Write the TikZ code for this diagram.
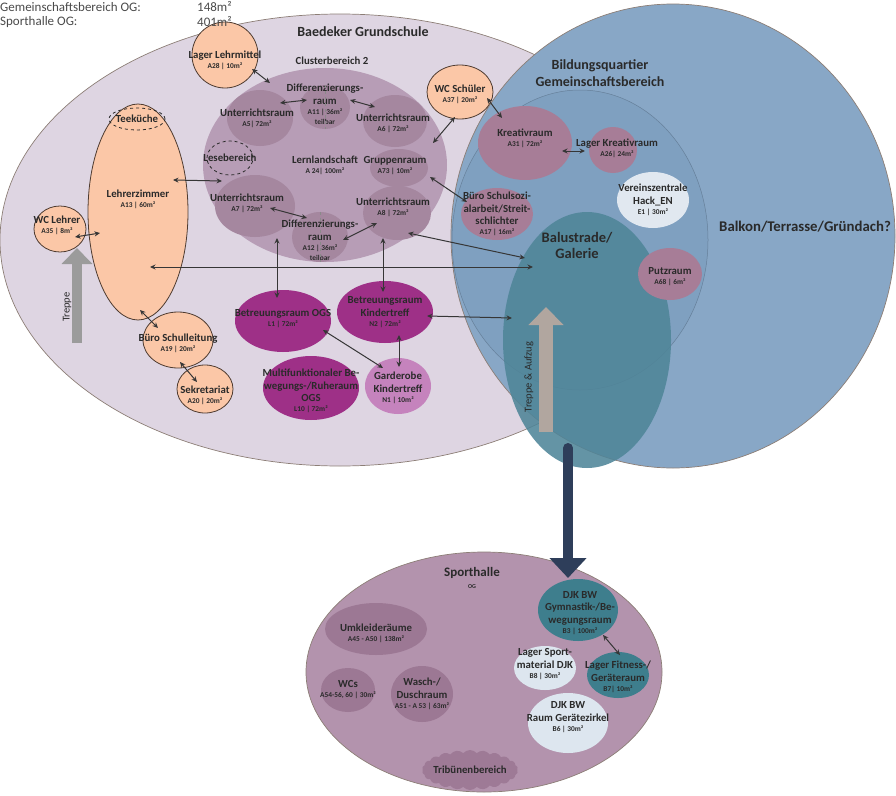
\documentclass[tikz,border=0pt]{standalone}
\usepackage{fontspec}
\setmainfont{Carlito}
\usepackage{tikz}
\usetikzlibrary{positioning,shapes.geometric,shapes.symbols,arrows.meta}

\definecolor{lila}{HTML}{DED5E2}
\definecolor{lilaline}{HTML}{8C7E76}
\definecolor{clusterc}{HTML}{B79DB6}
\definecolor{unterc}{HTML}{A5879F}
\definecolor{peachc}{HTML}{FBC7A7}
\definecolor{peachline}{HTML}{4E3B30}
\definecolor{ogsc}{HTML}{9E3087}
\definecolor{gardc}{HTML}{C583BD}
\definecolor{blauc}{HTML}{88A7C6}
\definecolor{bqc}{HTML}{7FA0C0}
\definecolor{galc}{HTML}{4F8598}
\definecolor{mauvec}{HTML}{A77D97}
\definecolor{vereinc}{HTML}{E1E8F0}
\definecolor{sportc}{HTML}{B393AD}
\definecolor{sportin}{HTML}{9C7894}
\definecolor{djkc}{HTML}{3E7E8D}
\definecolor{hellc}{HTML}{DDE6EF}
\definecolor{navyc}{HTML}{2E3E5A}
\definecolor{treppec}{HTML}{9B9B9B}
\definecolor{aufzugc}{HTML}{B1A69F}
\definecolor{linkc}{HTML}{363636}
\definecolor{ink}{HTML}{2A2A2A}

\newcommand{\rmfont}{\bfseries\fontsize{10.8}{12.5}\selectfont}
\newcommand{\smfont}{\fontsize{7.4}{9}\selectfont}
\newcommand{\titlefont}{\bfseries\fontsize{14}{17}\selectfont}
\newcommand{\area}[1]{\\[-2.5pt]{\smfont #1}}

\begin{document}
\begin{tikzpicture}[
x=1pt, y=-1pt,
every node/.style={font=\rmfont, text=ink},
every label/.style={align=center, inner sep=0pt},
zone/.style={ellipse, inner sep=0pt, draw=lilaline, line width=0.7pt},
room/.style={ellipse, inner sep=0pt},
peach/.style={room, fill=peachc, draw=peachline, line width=0.8pt},
unter/.style={room, fill=unterc},
mauve/.style={room, fill=mauvec},
ogsroom/.style={room, fill=ogsc},
djk/.style={room, fill=djkc},
hell/.style={room, fill=hellc},
sport/.style={room, fill=sportin},
dashedroom/.style={room, draw=ink, dashed, line width=0.8pt},
pfeil/.style={{Stealth[length=5.5pt,width=5pt]}-{Stealth[length=5.5pt,width=5pt]}, draw=linkc, line width=1pt},
teil/.style={draw=ink!55, dashed, line width=0.4pt},
titel/.style={font=\titlefont, align=center, inner sep=0pt}
]
\useasboundingbox (0,0) rectangle (896,795);

% Flaechen
\node[zone, fill=lila, minimum width=680pt, minimum height=452pt] (gs) at (340,240) {};
\node[zone, fill=blauc, minimum width=444pt, minimum height=464pt] (balkon) at (673,236) {};
\node[zone, fill=bqc, draw=bqc!80!black, line width=0.5pt, minimum width=256pt, minimum height=300pt] (bq) at (580,240) {};
\node[zone, fill=galc, fill opacity=0.88, draw=none, minimum width=168pt, minimum height=256pt] (gal) at (587,340) {};
\node[zone, fill=sportc, minimum width=356pt, minimum height=240pt] (sh) at (484,672) {};

% Clusterbereich 2
\node[room, fill=clusterc, minimum width=244pt, minimum height=194pt, label={center:Lernlandschaft\area{A 24| 100m²}}] (cluster) at (325,165) {};
\node[unter, minimum width=50pt, minimum height=44pt, label={[yshift=3pt]center:Differenzierungs-\\raum\area{A11 | 36m²}\area{teilbar}}] (a11) at (325,107) {};
\node[unter, minimum width=66pt, minimum height=56pt, label={[xshift=-3pt]center:Unterrichtsraum\area{A5| 72m²}}] (a5) at (260,118) {};
\node[unter, minimum width=64pt, minimum height=52pt, label={[xshift=-2pt,yshift=-2pt]center:Unterrichtsraum\area{A6 | 72m²}}] (a6) at (395,121) {};
\node[dashedroom, minimum width=46pt, minimum height=34pt, label={center:Lesebereich}] (lese) at (230,158) {};
\node[unter, minimum width=58pt, minimum height=38pt, label={[xshift=-4pt,yshift=2pt]center:Gruppenraum\area{A73 | 10m²}}] (grp) at (399,168) {};
\node[unter, minimum width=80pt, minimum height=62pt, label={[xshift=-8pt,yshift=3pt]center:Unterrichtsraum\area{A7 | 72m²}}] (a7) at (255,206) {};
\node[unter, minimum width=68pt, minimum height=54pt, label={[xshift=-4pt,yshift=6pt]center:Unterrichtsraum\area{A8 | 72m²}}] (a8) at (397,213) {};
\node[unter, minimum width=56pt, minimum height=50pt, label={[yshift=-3pt]center:Differenzierungs-\\raum\area{A12 | 36m²}\area{teilbar}}] (a12) at (320,237) {};
\draw[teil] (a11.north) -- (a11.south);
\draw[teil] (a12.north) -- (a12.south);

% Grundschule
\node[peach, minimum width=66pt, minimum height=66pt, label={[yshift=-5pt]center:Lager Lehrmittel\area{A28 | 10m²}}] (ll) at (225,55) {};
\node[peach, minimum width=100pt, minimum height=216pt, label={[yshift=13pt]center:Lehrerzimmer\area{A13 | 60m²}}] (lz) at (138,212) {};
\node[dashedroom, minimum width=56pt, minimum height=22pt, label={center:Teeküche}] (tee) at (137,119) {};
\node[peach, minimum width=52pt, minimum height=46pt, label={[xshift=-3pt,yshift=4pt]center:WC Lehrer\area{A35 | 8m²}}] (wcl) at (60,229) {};
\node[peach, minimum width=70pt, minimum height=56pt, label={[yshift=-3pt]center:Büro Schulleitung\area{A19 | 20m²}}] (bsl) at (178,340) {};
\node[peach, minimum width=56pt, minimum height=48pt, label={[yshift=-6pt]center:Sekretariat\area{A20 | 20m²}}] (sek) at (205,389) {};
\node[ogsroom, minimum width=96pt, minimum height=62pt, label={[yshift=2pt]center:Betreuungsraum OGS\area{L1 | 72m²}}] (ogs) at (283,321) {};
\node[ogsroom, minimum width=96pt, minimum height=62pt, label={center:Betreuungsraum\\Kindertreff\area{N2 | 72m²}}] (nkt) at (385,312) {};
\node[ogsroom, minimum width=96pt, minimum height=64pt, label={[yshift=-3pt]center:Multifunktionaler Be-\\wegungs-/Ruheraum\\OGS\area{L10 | 72m²}}] (mf) at (311,388) {};
\node[room, fill=gardc, minimum width=66pt, minimum height=56pt, label={[yshift=-2pt]center:Garderobe\\Kindertreff\area{N1 | 10m²}}] (gard) at (398,386) {};

% Bildungsquartier
\node[peach, minimum width=66pt, minimum height=54pt, label={[yshift=-2pt]center:WC Schüler\area{A37 | 20m²}}] (wcs) at (460,92) {};
\node[mauve, minimum width=94pt, minimum height=74pt, label={[yshift=5pt]center:Kreativraum\area{A31 | 72m²}}] (kre) at (525,143) {};
\node[mauve, minimum width=48pt, minimum height=46pt, label={[xshift=4pt,yshift=2pt]center:Lager Kreativraum\area{A26| 24m²}}] (lkr) at (613,150) {};
\node[mauve, minimum width=72pt, minimum height=52pt, label={center:Büro Schulsozi-\\alarbeit/Streit-\\schlichter\area{A17 | 16m²}}] (bss) at (497,214) {};
\node[room, fill=vereinc, minimum width=72pt, minimum height=56pt, label={center:Vereinszentrale\\Hack\_EN\area{E1 | 30m²}}] (vz) at (653,200) {};
\node[mauve, minimum width=64pt, minimum height=52pt, label={[yshift=-3pt]center:Putzraum\area{A68 | 6m²}}] (putz) at (670,274) {};

% Sporthalle
\node[sport, minimum width=102pt, minimum height=52pt, label={[yshift=-4pt]center:Umkleideräume\area{A45 - A50 | 138m²}}] (umk) at (376,629) {};
\node[sport, minimum width=54pt, minimum height=44pt, label={center:WCs\area{A54-56, 60 | 30m²}}] (wcsh) at (348,690) {};
\node[sport, minimum width=62pt, minimum height=56pt, label={center:Wasch-/\\Duschraum\area{A51 - A 53 | 63m²}}] (wd) at (422,694) {};
\node[cloud, cloud puffs=22, cloud puff arc=100, aspect=2.4, fill=sportin!92!sportc, inner sep=0pt, minimum width=96pt, minimum height=40pt, label={center:Tribünenbereich}] (trib) at (470,770) {};
\node[djk, minimum width=80pt, minimum height=62pt, label={[xshift=2pt,yshift=-3pt]center:DJK BW\\Gymnastik-/Be-\\wegungsraum\area{B3 | 100m²}}] (gym) at (578,610) {};
\node[hell, minimum width=62pt, minimum height=44pt, label={[yshift=4pt]center:Lager Sport-\\material DJK\area{B8 | 30m²}}] (lsm) at (545,668) {};
\node[djk, minimum width=62pt, minimum height=46pt, label={[yshift=-2pt]center:Lager Fitness-/\\Geräteraum\area{B7| 10m²}}] (fit) at (618,675) {};
\node[hell, minimum width=80pt, minimum height=60pt, label={[yshift=6pt]center:DJK BW\\Raum Gerätezirkel\area{B6 | 30m²}}] (gz) at (568,723) {};

% Treppen und Uebergang
\coordinate (treppe1) at (77,343);
\coordinate (treppe2) at (77,248);
\coordinate (aufzug1) at (546,432);
\coordinate (aufzug2) at (546,307);
\coordinate (ueber1) at (568,448);
\coordinate (ueber2) at (568,578);
\draw[draw=treppec, line width=10pt, -{Triangle[width=30pt,length=16pt]}] (treppe1) -- (treppe2);
\draw[draw=aufzugc, line width=14pt, -{Triangle[width=34pt,length=18pt]}] (aufzug1) -- (aufzug2);
\draw[draw=navyc, line width=10pt, line cap=round, -{Triangle[width=36pt,length=20pt]}] (ueber1) -- (ueber2);
\node[rotate=90, font=\fontsize{10.5}{12}\selectfont] (treppetxt) at (67,307) {Treppe};
\node[rotate=90, font=\fontsize{10.5}{12}\selectfont] (aufzugtxt) at (529,377) {Treppe \& Aufzug};

% Verbindungen
\coordinate (ll1) at (252,69);   \coordinate (cl1) at (270,83);
\coordinate (a5e) at (280,103);  \coordinate (a11w) at (307,100);
\coordinate (a11e) at (350,100); \coordinate (a6w) at (375,107);
\coordinate (a7e) at (270,208);  \coordinate (a12w) at (307,218);
\coordinate (a12e) at (343,240); \coordinate (a8w) at (377,223);
\coordinate (lz1) at (173,180);  \coordinate (lese1) at (222,181);
\coordinate (wcs1) at (455,117); \coordinate (grp1) at (433,143);
\coordinate (wcs2) at (487,98);  \coordinate (kre1) at (502,118);
\coordinate (kre2) at (562,151); \coordinate (lkr1) at (585,151);
\coordinate (grp2) at (430,177); \coordinate (bss1) at (467,202);
\coordinate (a8s) at (408,233);  \coordinate (gal1) at (525,258);
\coordinate (lz2) at (150,267);  \coordinate (gal2) at (533,267);
\coordinate (cl2) at (277,238);  \coordinate (ogs1) at (277,298);
\coordinate (cl3) at (383,238);  \coordinate (nkt1) at (383,292);
\coordinate (nkt2) at (427,316); \coordinate (gal3) at (512,318);
\coordinate (ogs2) at (323,330); \coordinate (gard1) at (383,368);
\coordinate (nkt3) at (399,335); \coordinate (gard2) at (399,367);
\coordinate (wcl1) at (75,237);  \coordinate (lz3) at (100,233);
\coordinate (lz4) at (140,310);  \coordinate (bsl1) at (158,328);
\coordinate (bsl2) at (180,362); \coordinate (sek1) at (197,382);
\coordinate (gym1) at (603,635); \coordinate (fit1) at (620,655);
\draw[pfeil] (ll1) -- (cl1);
\draw[pfeil] (a5e) -- (a11w);
\draw[pfeil] (a11e) -- (a6w);
\draw[pfeil] (a7e) -- (a12w);
\draw[pfeil] (a12e) -- (a8w);
\draw[pfeil] (lz1) -- (lese1);
\draw[pfeil] (wcs1) -- (grp1);
\draw[pfeil] (wcs2) -- (kre1);
\draw[pfeil] (kre2) -- (lkr1);
\draw[pfeil] (grp2) -- (bss1);
\draw[pfeil] (a8s) -- (gal1);
\draw[pfeil] (lz2) -- (gal2);
\draw[pfeil] (cl2) -- (ogs1);
\draw[pfeil] (cl3) -- (nkt1);
\draw[pfeil] (nkt2) -- (gal3);
\draw[pfeil] (ogs2) -- (gard1);
\draw[pfeil] (nkt3) -- (gard2);
\draw[pfeil] (wcl1) -- (lz3);
\draw[pfeil] (lz4) -- (bsl1);
\draw[pfeil] (bsl2) -- (sek1);
\draw[pfeil] (gym1) -- (fit1);

% Titel
\node[titel] (gstitel) at (363,32) {Baedeker Grundschule};
\node (clustertitel) at (332,61) {Clusterbereich 2};
\node[titel] (bqtitel) at (600,73) {Bildungsquartier\\Gemeinschaftsbereich};
\node[titel, font=\bfseries\fontsize{14.8}{17}\selectfont] (balkontitel) at (805,227) {Balkon/Terrasse/Gründach?};
\node[titel, font=\bfseries\fontsize{14.5}{16}\selectfont] (galtitel) at (577,245) {Balustrade/\\Galerie};
\node[titel, font=\bfseries\fontsize{13}{15}\selectfont] (shtitel) at (472,578) {Sporthalle\\[-3pt]{\fontsize{6}{7}\selectfont OG}};
\node[anchor=west, inner sep=0pt, font=\fontsize{13}{15}\selectfont, text=ink!85] (kopf1) at (0,7) {Gemeinschaftsbereich OG:};
\node[anchor=west, inner sep=0pt, font=\fontsize{13}{15}\selectfont, text=ink!85] (kopf1wert) at (197,7) {148m²};
\node[anchor=west, inner sep=0pt, font=\fontsize{13}{15}\selectfont, text=ink!85] (kopf2) at (0,22) {Sporthalle OG:};
\node[anchor=west, inner sep=0pt, font=\fontsize{13}{15}\selectfont, text=ink!85] (kopf2wert) at (197,22) {401m²};
\end{tikzpicture}
\end{document}
